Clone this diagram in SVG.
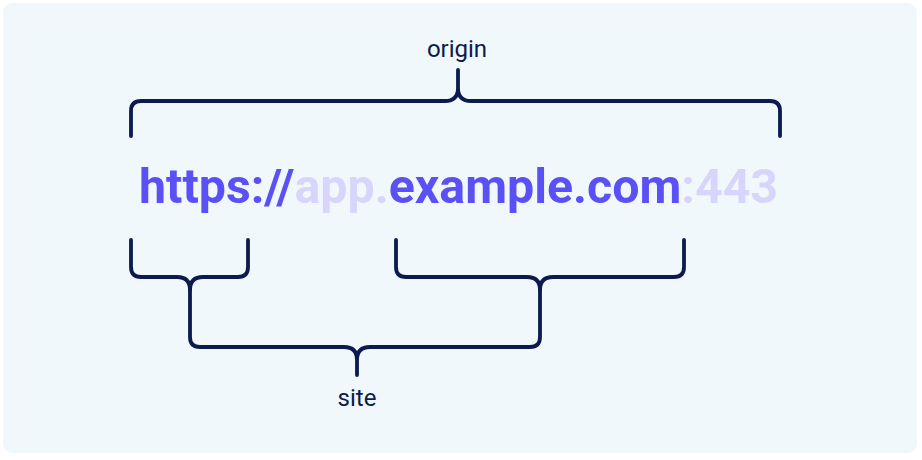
<svg xmlns="http://www.w3.org/2000/svg" width="922" height="460" viewBox="0 0 922 460">
  <style>
    .brace { fill: none; stroke: #0c1a4e; stroke-width: 3.8; stroke-linecap: round; stroke-linejoin: round; }
    .label { font-family: Roboto, "Liberation Sans", sans-serif; font-size: 24px; fill: #0c1a4e; text-anchor: middle; }
    .url { font-family: Roboto, "Liberation Sans", sans-serif; font-size: 48.3px; font-weight: 700; }
    .strong { fill: #5a50f5; }
    .faint { fill: #d8d5fc; }
  </style>
  <rect x="3" y="3" width="914" height="450" rx="9" fill="#f1f8fb"/>
  <g id="url">
    <text class="url" x="139" y="203"><tspan class="strong">https://</tspan><tspan class="faint">app.</tspan><tspan class="strong">example.com</tspan><tspan class="faint">:443</tspan></text>
  </g>
  <g id="origin">
    <text class="label" x="457" y="57">origin</text>
  </g>
  <g id="site">
    <text class="label" x="357" y="406">site</text>
  </g>
  <g id="connectors">
    <path class="brace" d="M131,136 V111 Q131,101 141,101 H445 Q458,101 458,88 Q458,101 471,101 H770 Q780,101 780,111 V136 M458,88 V70"/>
    <path class="brace" d="M131,240 V267 Q131,277 141,277 H177 Q190,277 190,290 Q190,277 203,277 H238 Q248,277 248,267 V240"/>
    <path class="brace" d="M396,240 V267 Q396,277 406,277 H527 Q540,277 540,290 Q540,277 553,277 H674 Q684,277 684,267 V240"/>
    <path class="brace" d="M190,290 V337 Q190,347 200,347 H344 Q357,347 357,360 Q357,347 370,347 H530 Q540,347 540,337 V290 M357,360 V375"/>
  </g>
</svg>
